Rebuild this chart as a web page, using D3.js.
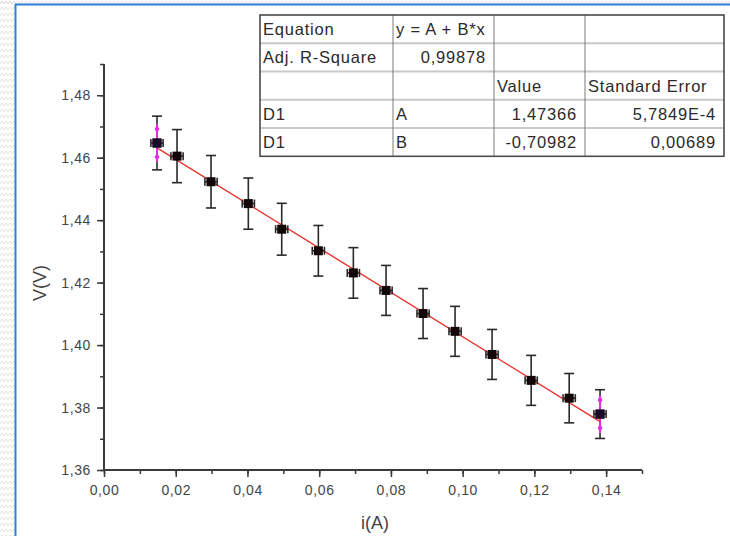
<!DOCTYPE html>
<html><head><meta charset="utf-8">
<script src="https://cdn.jsdelivr.net/npm/d3@7"></script>
<style>
html,body{margin:0;padding:0;background:#fff;}
svg{display:block;font-family:"Liberation Sans",Arial,sans-serif;}
</style></head>
<body>
<svg id="c" width="730" height="536"></svg>
<script>
// ---- data ----
const currentA = [0.01478,0.02036,0.02984,0.04024,0.04955,0.05976,0.06952,0.07864,0.08896,0.09788,0.1082,0.1191,0.1297,0.1383];
const voltageV = [1.4647,1.4605,1.4523,1.4453,1.4371,1.4302,1.4231,1.4175,1.4101,1.4044,1.3970,1.3887,1.3830,1.3779];
const voltErr  = [0.0086,0.0085,0.0084,0.0082,0.0083,0.0081,0.0081,0.0080,0.0080,0.0080,0.0080,0.0080,0.0079,0.0078];
const currErr  = [0.0017,0.0017,0.0017,0.0017,0.0017,0.0017,0.0017,0.0017,0.0017,0.0017,0.0017,0.0017,0.0017,0.0017];
const markedIdx = [0, 13];
const fitA = 1.47366, fitB = -0.70982;
const xTickVals = [0,0.02,0.04,0.06,0.08,0.10,0.12,0.14];
const xTickLabels = ["0,00","0,02","0,04","0,06","0,08","0,10","0,12","0,14"];
const yTickVals = [1.36,1.38,1.40,1.42,1.44,1.46,1.48];
const yTickLabels = ["1,36","1,38","1,40","1,42","1,44","1,46","1,48"];
const tableRows = [
  ["Equation","y = A + B*x","",""],
  ["Adj. R-Square","0,99878","",""],
  ["","","Value","Standard Error"],
  ["D1","A","1,47366","5,7849E-4"],
  ["D1","B","-0,70982","0,00689"]
];
const tableAlign = [
  ["l","l","l","l"],
  ["l","r","l","l"],
  ["l","l","l","l"],
  ["l","l","r","r"],
  ["l","l","r","r"]
];

const svg = d3.select("#c");

// background pattern (zig-zag paper) at the left/top edge
const defs = svg.append("defs");
const pat = defs.append("pattern").attr("id","zz").attr("width",8).attr("height",6).attr("patternUnits","userSpaceOnUse");
pat.append("path").attr("d","M0,4 L2,1 L4,4 L6,1 L8,4").attr("fill","none").attr("stroke","#dcdcdc").attr("stroke-width",0.8);
svg.append("rect").attr("x",0).attr("y",0).attr("width",15).attr("height",536).attr("fill","url(#zz)");
svg.append("rect").attr("x",0).attr("y",0).attr("width",730).attr("height",4).attr("fill","url(#zz)");
svg.append("line").attr("x1",15.5).attr("x2",15.5).attr("y1",4).attr("y2",536).attr("stroke","#2f7fd6").attr("stroke-width",2);
svg.append("line").attr("x1",15).attr("x2",730).attr("y1",4.5).attr("y2",4.5).attr("stroke","#2f7fd6").attr("stroke-width",2);

// scales
const x = d3.scaleLinear().domain([0,0.15]).range([104,642]);
const y = d3.scaleLinear().domain([1.36,1.49]).range([470,64]);

const axisColor = "#3a3a3a";
// x axis
const gx = svg.append("g").attr("transform","translate(0,470)");
gx.call(d3.axisBottom(x).tickValues(d3.range(0,0.1501,0.01)).tickSize(4).tickFormat(""));
gx.append("g").call(d3.axisBottom(x).tickValues(xTickVals).tickSize(7).tickPadding(8)
   .tickFormat((d,i)=>xTickLabels[i]));
gx.selectAll(".domain").attr("stroke",axisColor).attr("stroke-width",2).attr("d","M104,0H642");
gx.selectAll(".tick line").attr("stroke",axisColor).attr("stroke-width",1.5);
gx.selectAll("text").attr("fill","#444").attr("font-size",14).attr("letter-spacing",0.6)
   .attr("font-family","'Liberation Sans',Arial,sans-serif");

// y axis
const gy = svg.append("g").attr("transform","translate(104,0)");
gy.call(d3.axisLeft(y).tickValues(d3.range(0,14).map(i=>1.36+i*0.01)).tickSize(4).tickFormat(""));
gy.append("g").call(d3.axisLeft(y).tickValues(yTickVals).tickSize(7).tickPadding(6)
   .tickFormat((d,i)=>yTickLabels[i]));
gy.selectAll(".domain").attr("stroke",axisColor).attr("stroke-width",2).attr("d","M0,470V64");
gy.selectAll(".tick line").attr("stroke",axisColor).attr("stroke-width",1.5);
gy.selectAll("text").attr("fill","#444").attr("font-size",14).attr("letter-spacing",0.6)
   .attr("font-family","'Liberation Sans',Arial,sans-serif");

// axis titles
svg.append("text").attr("x",375).attr("y",529).attr("text-anchor","middle")
  .attr("font-size",18).attr("fill","#444").text("i(A)");
svg.append("text").attr("transform","translate(46,283) rotate(-90)").attr("text-anchor","middle")
  .attr("font-size",18).attr("fill","#444").text("V(V)");

// fit line
const x0 = d3.min(currentA), x1 = d3.max(currentA);
svg.append("line").attr("x1",x(x0)).attr("y1",y(fitA+fitB*x0)).attr("x2",x(x1)).attr("y2",y(fitA+fitB*x1))
  .attr("stroke","#e8322e").attr("stroke-width",1.4);

// error bars & points
const pts = currentA.map((c,i)=>({c, v:voltageV[i], ev:voltErr[i], ec:currErr[i], i}));
const g = svg.append("g");
const errColor = "#2a2a2a";
pts.forEach(p=>{
  const cx = x(p.c), cy = y(p.v);
  const yt = y(p.v+p.ev), yb = y(p.v-p.ev);
  const xl = x(p.c-p.ec), xr = x(p.c+p.ec);
  g.append("line").attr("x1",cx).attr("x2",cx).attr("y1",yt).attr("y2",yb).attr("stroke",errColor).attr("stroke-width",1.6);
  g.append("line").attr("x1",cx-5).attr("x2",cx+5).attr("y1",yt).attr("y2",yt).attr("stroke",errColor).attr("stroke-width",1.6);
  g.append("line").attr("x1",cx-5).attr("x2",cx+5).attr("y1",yb).attr("y2",yb).attr("stroke",errColor).attr("stroke-width",1.6);
  g.append("line").attr("x1",xl).attr("x2",xr).attr("y1",cy).attr("y2",cy).attr("stroke",errColor).attr("stroke-width",1.6);
  g.append("line").attr("x1",xl).attr("x2",xl).attr("y1",cy-4).attr("y2",cy+4).attr("stroke",errColor).attr("stroke-width",1.6);
  g.append("line").attr("x1",xr).attr("x2",xr).attr("y1",cy-4).attr("y2",cy+4).attr("stroke",errColor).attr("stroke-width",1.6);
});
// magenta markers
markedIdx.forEach(i=>{
  const cx = x(currentA[i]), cy = y(voltageV[i]);
  g.append("line").attr("x1",cx).attr("x2",cx).attr("y1",cy-19).attr("y2",cy+19).attr("stroke","#e22ee0").attr("stroke-width",2);
  [-14,14].forEach(o=>{
    g.append("path").attr("d",`M${cx},${cy+o-4}L${cx+2.5},${cy+o}L${cx},${cy+o+4}L${cx-2.5},${cy+o}Z`).attr("fill","#e22ee0");
  });
});
pts.forEach(p=>{
  g.append("rect").attr("x",x(p.c)-4.5).attr("y",y(p.v)-4.5).attr("width",9).attr("height",9)
    .attr("fill","#120606");
});
markedIdx.forEach(i=>{
  g.append("rect").attr("x",x(currentA[i])-4.5).attr("y",y(voltageV[i])-4.5).attr("width",9).attr("height",9).attr("fill","#1a0a2a");
});

// table
const colX = [260,393,494,585,724];
const rowY = [15,43.3,71.5,99.7,128,156.3];
const tg = svg.append("g");
tg.append("rect").attr("x",colX[0]).attr("y",rowY[0]).attr("width",colX[4]-colX[0]).attr("height",rowY[5]-rowY[0])
  .attr("fill","#fff");
for(let r=1;r<5;r++){
  tg.append("line").attr("x1",colX[0]).attr("x2",colX[4]).attr("y1",rowY[r]).attr("y2",rowY[r]).attr("stroke","#c8c8c8").attr("stroke-width",2);
}
for(let c=1;c<4;c++){
  tg.append("line").attr("x1",colX[c]).attr("x2",colX[c]).attr("y1",rowY[0]).attr("y2",rowY[5]).attr("stroke","#7a7a7a").attr("stroke-width",1);
}
tg.append("rect").attr("x",colX[0]).attr("y",rowY[0]).attr("width",colX[4]-colX[0]).attr("height",rowY[5]-rowY[0])
  .attr("fill","none").attr("stroke","#4a4a4a").attr("stroke-width",1.6);
tableRows.forEach((row,r)=>{
  row.forEach((txt,c)=>{
    if(!txt) return;
    const al = tableAlign[r][c];
    tg.append("text").attr("x", al==="l" ? colX[c]+3 : colX[c+1]-8)
      .attr("y", rowY[r]+20).attr("text-anchor", al==="l"?"start":"end")
      .attr("font-size",16.5).attr("letter-spacing",0.8).attr("fill","#2a2a2a").text(txt);
  });
});
</script>
</body></html>
